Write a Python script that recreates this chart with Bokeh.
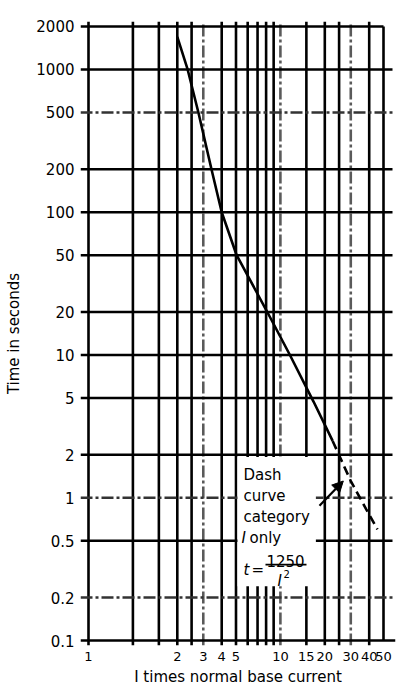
import math
from bokeh.plotting import figure
from bokeh.models import FixedTicker, Label, Arrow, NormalHead, Range1d
from bokeh.embed import file_html
from bokeh.resources import INLINE

# ---------------- data ----------------
x_ticks = [0.5, 2, 3, 4, 5, 10, 15, 20, 30, 40, 50]
x_tick_labels = ["1", "2", "3", "4", "5", "10", "15", "20", "30", "40", "50"]
x_lines_solid = [1, 1.5, 2, 2.5, 4, 5, 6, 7, 8, 9, 15, 20, 25, 40]
x_lines_dashdot = [3, 10, 30]

y_ticks = [0.1, 0.2, 0.5, 1, 2, 5, 10, 20, 50, 100, 200, 500, 1000, 2000]
y_tick_labels = ["0.1", "0.2", "0.5", "1", "2", "5", "10", "20", "50",
                 "100", "200", "500", "1000", "2000"]
y_lines_solid = [0.5, 2, 5, 10, 20, 50, 100, 200, 1000]
y_lines_dashdot = [0.2, 1, 500]

x_min, x_max = 0.5, 50
y_min, y_max = 0.1, 2000

# solid curve (I, t)
curve_I = [2.0, 2.35, 2.78, 3.41, 4.0, 5.05, 8.15, 11.6, 16.8, 22.6]
curve_t = [1690, 1000, 500, 200, 100, 50, 20, 10, 4.7, 2.5]
# dashed curve, category I only  (t = 1250 / I^2)
dash_I = [22.6, 30.0, 38.2, 45.5]
dash_t = [2.5, 1.31, 0.83, 0.60]

# annotation
note_lines = ["Dash", "curve", "category"]
note_I, note_t = 5.62, 2.0
arrow_start = (18.4, 0.88)
arrow_end = (26.7, 1.31)
box_left, box_right, box_bottom, box_top = 5.12, 17.4, 0.24, 1.93

# ---------------- geometry ----------------
W, H = 419, 688
b_left, b_right, b_top, b_bottom = 80, 24, 21, 42
frame_w = W - b_left - b_right
frame_h = H - b_top - b_bottom
ext_l, ext_r, ext_t, ext_b = 8, 12, 5, 5
ppd_x = (frame_w - ext_l - ext_r) / math.log10(x_max / x_min)
ppd_y = (frame_h - ext_t - ext_b) / math.log10(y_max / y_min)


def fx(px):
    return 10 ** (px / ppd_x)


def fy(px):
    return 10 ** (px / ppd_y)


xr = Range1d(x_min / fx(ext_l), x_max * fx(ext_r))
yr = Range1d(y_min / fy(ext_b), y_max * fy(ext_t))

FONT = "DejaVu Sans"

p = figure(width=W, height=H, x_axis_type="log", y_axis_type="log",
           x_range=xr, y_range=yr, output_backend="svg", toolbar_location=None,
           min_border_left=b_left, min_border_right=b_right,
           min_border_top=b_top, min_border_bottom=b_bottom)
p.outline_line_color = None
p.xgrid.visible = False
p.ygrid.visible = False
p.background_fill_color = "white"
p.border_fill_color = "white"

LW = 2.6
DASHDOT = "12 3 3 3"

v_y0, v_y1 = y_min / fy(5), y_max * fy(5)
h_x0, h_x1 = xr.start, x_max * fx(9)

# vertical lines (incl. left border)
vs = [x_min] + x_lines_solid
p.segment(x0=vs, y0=[v_y0] * len(vs), x1=vs, y1=[v_y1] * len(vs),
          line_color="black", line_width=LW)
p.segment(x0=[x_max], y0=[y_min], x1=[x_max], y1=[y_max],
          line_color="black", line_width=LW)
p.segment(x0=x_lines_dashdot, y0=[v_y0] * len(x_lines_dashdot),
          x1=x_lines_dashdot, y1=[v_y1] * len(x_lines_dashdot),
          line_color="#5a5a5a", line_width=LW, line_dash=DASHDOT)

# horizontal lines
p.segment(x0=[h_x0] * len(y_lines_solid), y0=y_lines_solid,
          x1=[h_x1] * len(y_lines_solid), y1=y_lines_solid,
          line_color="black", line_width=LW)
p.segment(x0=[h_x0], y0=[y_max], x1=[x_max], y1=[y_max],
          line_color="black", line_width=LW)
p.segment(x0=[h_x0], y0=[y_min], x1=[xr.end], y1=[y_min],
          line_color="black", line_width=LW)
p.segment(x0=[h_x0] * len(y_lines_dashdot), y0=y_lines_dashdot,
          x1=[h_x1] * len(y_lines_dashdot), y1=y_lines_dashdot,
          line_color="#333333", line_width=LW, line_dash=DASHDOT)

# white backing for the note
p.quad(left=[box_left], right=[box_right], bottom=[box_bottom], top=[box_top],
       fill_color="white", line_color=None)

# curves
p.line(curve_I, curve_t, line_color="black", line_width=2.6)
p.line(dash_I, dash_t, line_color="black", line_width=2.6, line_dash="9 5")

# arrow
p.add_layout(Arrow(end=NormalHead(size=11, fill_color="black", line_color="black"),
                   x_start=arrow_start[0], y_start=arrow_start[1],
                   x_end=arrow_end[0], y_end=arrow_end[1],
                   line_color="black", line_width=2.2))

# note text
NFS = "15px"


def note(text, dx, dy, style="normal", size=NFS):
    p.add_layout(Label(x=note_I, y=note_t, text=text, x_offset=dx, y_offset=dy,
                       text_font=FONT, text_font_size=size, text_font_style=style,
                       text_color="black", text_baseline="alphabetic",
                       text_align="left"))


for i, s in enumerate(note_lines):
    note(s, 0, -20 - 21 * i)
note("I", -2, -83, "italic")
note("only", 6, -83)
note("t", 0, -115, "italic")
note("=", 8, -115)
note("1250", 23, -106)
note("I", 34, -126, "italic")
note("2", 40, -119, size="10px")
# fraction bar
bar_y = note_t / fy(110)
p.segment(x0=[note_I * fx(22)], y0=[bar_y], x1=[note_I * fx(63)], y1=[bar_y],
          line_color="black", line_width=1.8)

# axes
xa = p.xaxis[0]
xa.ticker = FixedTicker(ticks=x_ticks, minor_ticks=[])
xa.major_label_overrides = dict(zip(x_ticks, x_tick_labels))
ya = p.yaxis[0]
ya.ticker = FixedTicker(ticks=y_ticks, minor_ticks=[])
ya.major_label_overrides = dict(zip(y_ticks, y_tick_labels))

for ax in (xa, ya):
    ax.axis_line_color = None
    ax.major_tick_line_color = None
    ax.minor_tick_line_color = None
    ax.major_tick_out = 0
    ax.major_tick_in = 0
    ax.minor_tick_out = 0
    ax.minor_tick_in = 0
    ax.major_label_standoff = 6
    ax.major_label_text_font = FONT
    ax.major_label_text_color = "black"
    ax.axis_label_text_font = FONT
    ax.axis_label_text_font_style = "normal"
    ax.axis_label_text_color = "black"
    ax.axis_label_text_font_size = "15px"

xa.major_label_text_font_size = "13px"
ya.major_label_text_font_size = "15px"
xa.axis_label = "I times normal base current"
ya.axis_label = "Time in seconds"
xa.axis_label_standoff = 4
ya.axis_label_standoff = 10

open("out.html", "w").write(file_html(p, INLINE))
